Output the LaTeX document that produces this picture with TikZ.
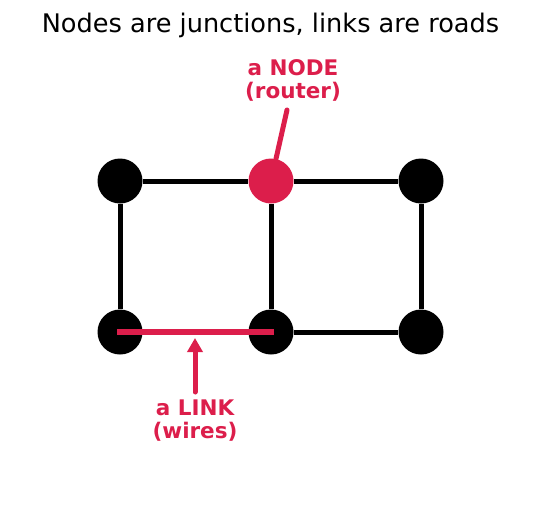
\documentclass[tikz,border=0pt]{standalone}
\usepackage{fontspec}
\setmainfont{DejaVu Sans}
\usetikzlibrary{arrows.meta}
\definecolor{hilite}{RGB}{220,30,75}

\tikzset{
  junction/.style={circle, fill=black, minimum size=45pt, inner sep=0pt},
  road/.style={line width=5pt},
  callout/.style={text=hilite, font=\bfseries\fontsize{21.5}{23.5}\selectfont, align=center, inner sep=0pt}
}

\begin{document}
\begin{tikzpicture}[x=1pt,y=-1pt]
\useasboundingbox (0,0) rectangle (541,512);

% Title
\node[font=\fontsize{25.6}{27}\selectfont, anchor=base] (title) at (270.5,32.5) {Nodes are junctions, links are roads};

% Junctions (top row, bottom row)
\foreach \n/\x/\y in {j1/120/181, j3/421/181, j4/120/332, j5/271/332, j6/421/332} {
    \node[junction] (\n) at (\x,\y) {};
}
\node[junction, fill=hilite] (j2) at (271,181) {};

% Roads
\draw[road] (j1) -- (j2);
\draw[road] (j2) -- (j3);
\draw[road] (j1) -- (j4);
\draw[road] (j2) -- (j5);
\draw[road] (j3) -- (j6);
\draw[road] (j5) -- (j6);

% The highlighted link
\draw[hilite, line width=6.5pt, line cap=rect] (j4.center) -- (j5.center);

% Callout: node
\node[callout] (nodelbl) at (293,80.5) {a NODE\\(router)};
\coordinate (ntail) at (287,110);
\draw[hilite, line width=5pt, line cap=round] (ntail) -- (j2);

% Callout: link
\node[callout] (linklbl) at (195,420.5) {a LINK\\(wires)};
\coordinate (ltail) at (195,392);
\coordinate (ltip) at (195,338);
\draw[hilite, line width=5pt, line cap=round, -{Triangle[length=14pt,width=15pt]}] (ltail) -- (ltip);

\end{tikzpicture}
\end{document}
